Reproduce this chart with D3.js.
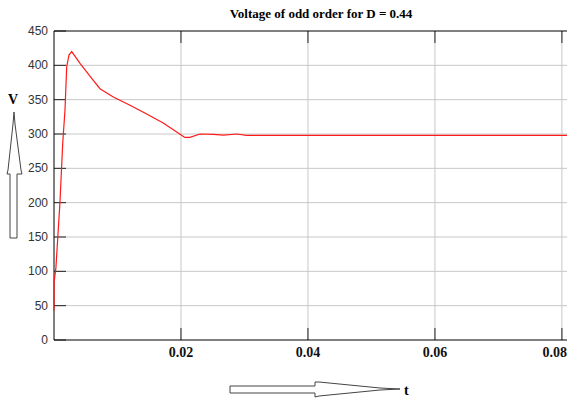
<!DOCTYPE html>
<html>
<head>
<meta charset="utf-8">
<script src="https://cdn.jsdelivr.net/npm/d3@7"></script>
<style>
  body { margin: 0; background: #fff; }
  svg { display: block; }
</style>
</head>
<body>
<div id="chart"></div>
<script>
// voltage trace (t in s, V in volts)
var timeVals = [0, 0.00002, 0.0003, 0.00094, 0.00137, 0.00173, 0.002, 0.00236, 0.00279,
    0.0041, 0.00594, 0.00724, 0.00934, 0.01197, 0.0146, 0.0172, 0.0198, 0.0206, 0.0214,
    0.0230, 0.0251, 0.0267, 0.0288, 0.0303, 0.0356, 0.0808];
var voltVals = [43, 85, 105, 201, 286, 335, 398, 415, 420,
    403, 381, 366, 354, 342, 329, 316, 300, 295, 295,
    300, 299.5, 298.5, 300, 298, 298, 298];

var yTicks = [0, 50, 100, 150, 200, 250, 300, 350, 400, 450];
var xTicks = [0.02, 0.04, 0.06, 0.08];
var titleText = "Voltage of odd order for D = 0.44";

var width = 568, height = 401;
var plotL = 54, plotR = 567, plotT = 31, plotB = 340;

var svg = d3.select("#chart")
    .append("svg")
    .attr("width", width)
    .attr("height", height);

var x = d3.scaleLinear().domain([0, 0.0808]).range([plotL, plotR]);
var y = d3.scaleLinear().domain([0, 450]).range([plotB, plotT]);

// grid
svg.selectAll(".hgrid")
    .data(yTicks.filter(function(d) { return d > 0 && d < 450; }))
    .enter().append("line")
    .attr("x1", plotL).attr("x2", plotR)
    .attr("y1", function(d) { return y(d); })
    .attr("y2", function(d) { return y(d); })
    .attr("stroke", "#c8c8c8")
    .attr("stroke-width", 1);

svg.selectAll(".vgrid")
    .data(xTicks)
    .enter().append("line")
    .attr("x1", function(d) { return x(d); })
    .attr("x2", function(d) { return x(d); })
    .attr("y1", plotT).attr("y2", plotB)
    .attr("stroke", "#c8c8c8")
    .attr("stroke-width", 1);

// tick marks (inside the frame)
svg.selectAll(".ytick")
    .data(yTicks)
    .enter().append("line")
    .attr("x1", plotL).attr("x2", plotL + 12)
    .attr("y1", function(d) { return y(d); })
    .attr("y2", function(d) { return y(d); })
    .attr("stroke", "#222")
    .attr("stroke-width", 1);

svg.selectAll(".xtickb")
    .data(xTicks)
    .enter().append("line")
    .attr("x1", function(d) { return x(d); })
    .attr("x2", function(d) { return x(d); })
    .attr("y1", plotB).attr("y2", plotB - 12)
    .attr("stroke", "#222");

svg.selectAll(".xtickt")
    .data(xTicks)
    .enter().append("line")
    .attr("x1", function(d) { return x(d); })
    .attr("x2", function(d) { return x(d); })
    .attr("y1", plotT).attr("y2", plotT + 12)
    .attr("stroke", "#222");

// frame
svg.append("line").attr("x1", plotL).attr("x2", plotL).attr("y1", plotT).attr("y2", plotB)
    .attr("stroke", "#000");
svg.append("line").attr("x1", plotL).attr("x2", plotR).attr("y1", plotB).attr("y2", plotB)
    .attr("stroke", "#000");
svg.append("line").attr("x1", plotL).attr("x2", plotR).attr("y1", plotT).attr("y2", plotT)
    .attr("stroke", "#000");

// tick labels
svg.selectAll(".ylab")
    .data(yTicks)
    .enter().append("text")
    .attr("x", 48)
    .attr("y", function(d) { return y(d) + 4; })
    .attr("text-anchor", "end")
    .style("font-family", "Liberation Sans, Arial, sans-serif")
    .style("font-size", "12px")
    .style("fill", "#333")
    .text(function(d) { return d; });

// last label is pushed in so it stays inside the picture
svg.selectAll(".xlab")
    .data(xTicks)
    .enter().append("text")
    .attr("x", function(d, i) { return i == xTicks.length - 1 ? 567 : x(d); })
    .attr("y", 357)
    .attr("text-anchor", function(d, i) { return i == xTicks.length - 1 ? "end" : "middle"; })
    .style("font-family", "Liberation Serif, Times New Roman, serif")
    .style("font-weight", "bold")
    .style("font-size", "14px")
    .style("fill", "#111")
    .text(function(d) { return d.toFixed(2); });

// title
svg.append("text")
    .attr("x", 321)
    .attr("y", 18)
    .attr("text-anchor", "middle")
    .style("font-family", "Liberation Serif, Times New Roman, serif")
    .style("font-weight", "bold")
    .style("font-size", "13px")
    .text(titleText);

// the curve
var line = d3.line()
    .x(function(d, i) { return x(timeVals[i]); })
    .y(function(d) { return y(d); });

svg.append("path")
    .datum(voltVals)
    .attr("d", line)
    .attr("fill", "none")
    .attr("stroke", "#ff1a1a")
    .attr("stroke-width", 1.2);

// axis name arrows
svg.append("path")
    .attr("d", "M10,238 L17,238 L17,174 L22,174 L21,170 L15,124 L14,112 L13,124 L8,170 L7,174 L10,174 Z")
    .attr("fill", "#fff")
    .attr("stroke", "#444")
    .attr("stroke-width", 1);

svg.append("text")
    .attr("x", 13)
    .attr("y", 104)
    .attr("text-anchor", "middle")
    .style("font-family", "Liberation Serif, Times New Roman, serif")
    .style("font-weight", "bold")
    .style("font-size", "14px")
    .text("V");

svg.append("path")
    .attr("d", "M230,386 L315,386 L315,382 L319,382 L380,388 L400,389 L380,390 L319,396 L315,397 L315,393 L230,393 Z")
    .attr("fill", "#fff")
    .attr("stroke", "#444")
    .attr("stroke-width", 1);

svg.append("text")
    .attr("x", 404)
    .attr("y", 395)
    .style("font-family", "Liberation Serif, Times New Roman, serif")
    .style("font-weight", "bold")
    .style("font-size", "14px")
    .text("t");
</script>
</body>
</html>
